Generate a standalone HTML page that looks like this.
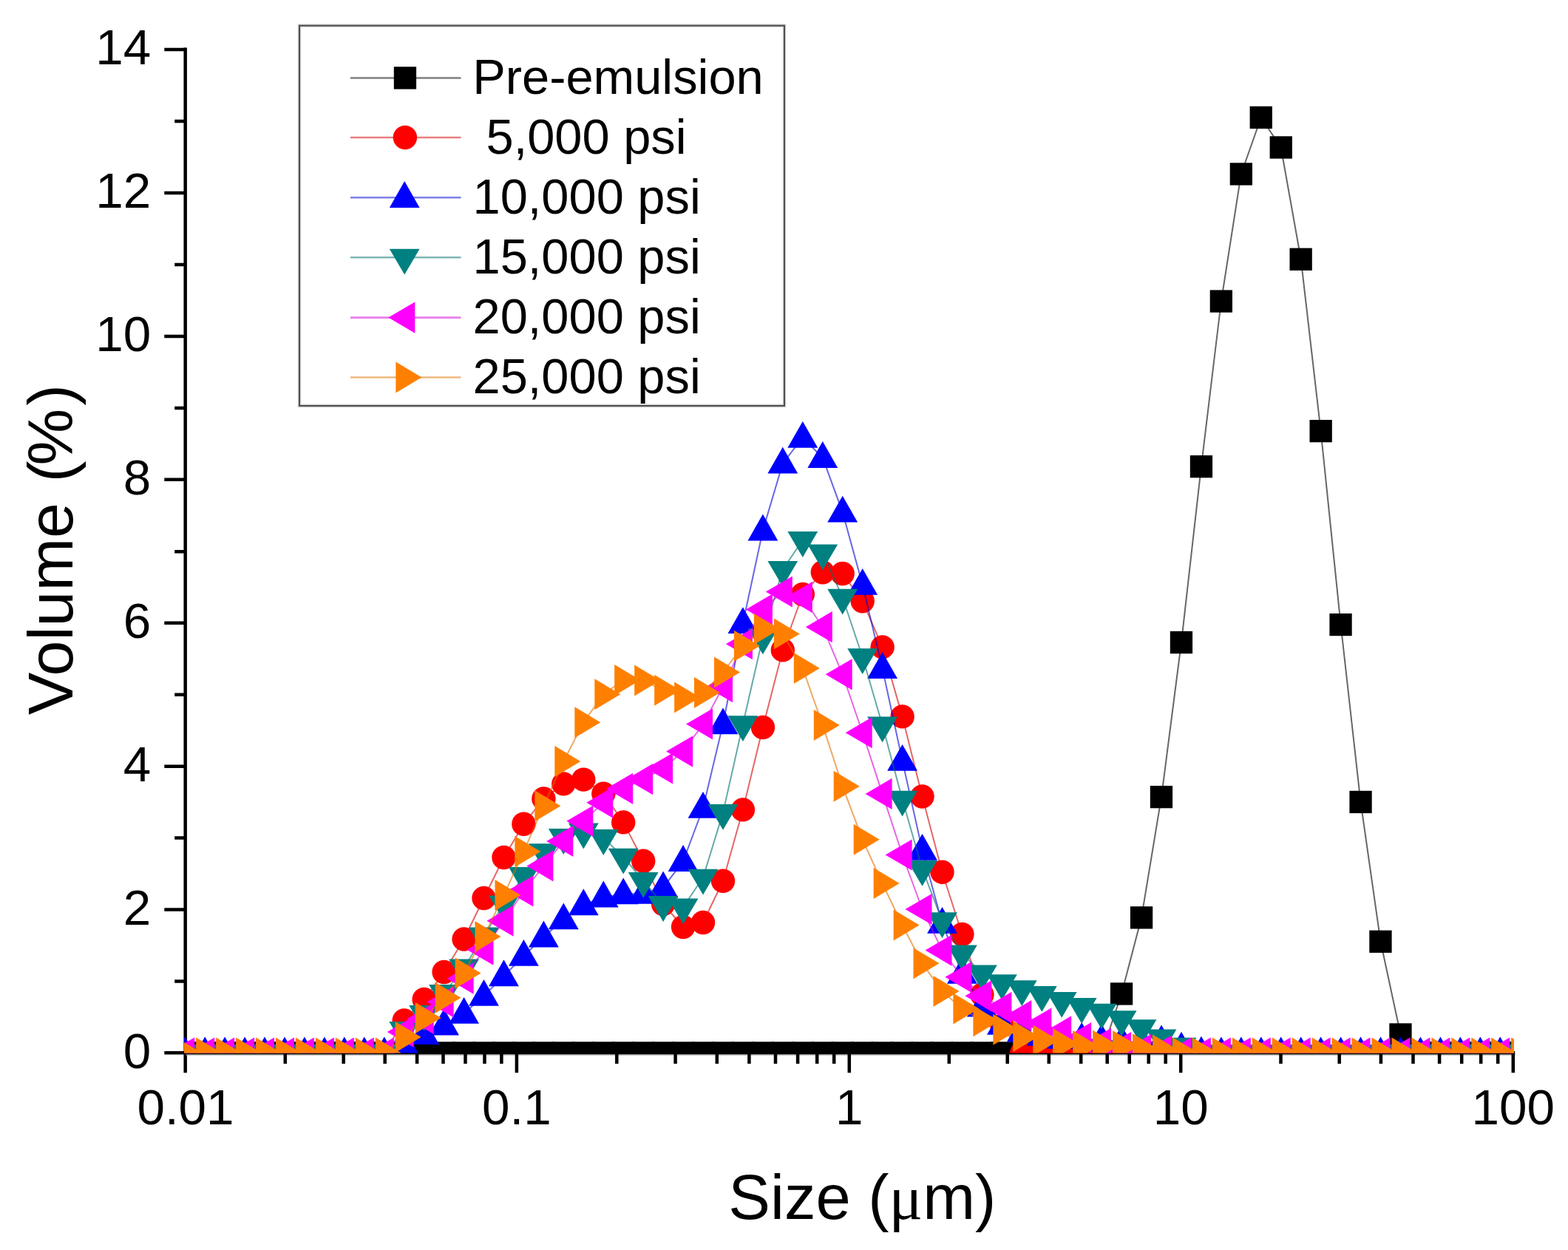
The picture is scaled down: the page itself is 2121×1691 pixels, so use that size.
<!DOCTYPE html>
<html lang="en"><head><meta charset="utf-8"><title>Volume (%)</title>
<style>html,body{margin:0;padding:0;background:#fff}body{width:2121px;height:1691px;overflow:hidden}svg{display:block}text{font-family:"Liberation Sans",Arial,Helvetica,sans-serif;fill:#000}.tk{font-size:67.4px}.lg{font-size:66.8px}.ti{font-size:85px}.tv{font-size:86px;word-spacing:4px}.mu{font-family:"Liberation Serif","DejaVu Serif",serif;}</style></head><body>
<svg width="2121" height="1691" viewBox="0 0 2121 1691">
<rect width="2121" height="1691" fill="#fff"/>
<defs><clipPath id="cp"><rect x="249" y="40" width="1799" height="1384.4"/></clipPath></defs>
<g stroke="#000" stroke-width="4.5" fill="none">
<path d="M250.7 64.6V1451.3"/>
<path d="M222.3 1424.2H2049.2" stroke-width="4.4"/>
<path d="M251 1426.9H2049.4" stroke="#888" stroke-width="1.4"/>
<path d="M236.2 1327.5H251M222.3 1230.6H251M236.2 1133.6H251M222.3 1036.7H251M236.2 939.7H251M222.3 842.7H251M236.2 746.3H251M222.3 648.8H251M236.2 551.9H251M222.3 454.9H251M236.2 357.9H251M222.3 261H251M236.2 164H251M222.3 67.1H251"/>
<path d="M385.8 1424.5V1438.9M464.7 1424.5V1438.9M520.7 1424.5V1438.9M564.1 1424.5V1438.9M599.5 1424.5V1438.9M629.5 1424.5V1438.9M655.5 1424.5V1438.9M678.4 1424.5V1438.9M698.9 1424.5V1451.3M834.3 1424.5V1438.9M913.6 1424.5V1438.9M969.8 1424.5V1438.9M1013.4 1424.5V1438.9M1049 1424.5V1438.9M1079.1 1424.5V1438.9M1105.2 1424.5V1438.9M1128.2 1424.5V1438.9M1148.8 1424.5V1451.3M1283.8 1424.5V1438.9M1362.7 1424.5V1438.9M1418.8 1424.5V1438.9M1462.2 1424.5V1438.9M1497.7 1424.5V1438.9M1527.7 1424.5V1438.9M1553.7 1424.5V1438.9M1576.7 1424.5V1438.9M1597.2 1424.5V1451.3M1732.5 1424.5V1438.9M1811.7 1424.5V1438.9M1867.9 1424.5V1438.9M1911.5 1424.5V1438.9M1947.1 1424.5V1438.9M1977.2 1424.5V1438.9M2003.2 1424.5V1438.9M2026.2 1424.5V1438.9M2046.8 1424.5V1451.3"/>
</g>
<g class="tk" text-anchor="end">
<text x="204.3" y="1444.5">0</text>
<text x="204.3" y="1250.6">2</text>
<text x="204.3" y="1056.7">4</text>
<text x="204.3" y="862.7">6</text>
<text x="204.3" y="668.8">8</text>
<text x="204.3" y="474.9">10</text>
<text x="204.3" y="281">12</text>
<text x="204.3" y="87.1">14</text>
</g>
<g class="tk" text-anchor="middle">
<text x="251" y="1521">0.01</text>
<text x="698.9" y="1521">0.1</text>
<text x="1148.8" y="1521">1</text>
<text x="1597.2" y="1521">10</text>
<text x="2046.8" y="1521">100</text>
</g>
<text class="ti" x="985.3" y="1649.2">Size (<tspan class="mu">μ</tspan>m)</text>
<text class="ti tv" transform="translate(97.5 967) rotate(-90)">Volume (<tspan dx="-6">%</tspan><tspan dx="4.5">)</tspan></text>
<g clip-path="url(#cp)">
<polyline points="250.2,1424.5 277.2,1424.5 304.1,1424.5 331.1,1424.5 358,1424.5 385,1424.5 411.9,1424.5 438.9,1424.5 465.8,1424.5 492.8,1424.5 519.8,1424.5 546.7,1424.5 573.7,1424.5 600.6,1424.5 627.6,1424.5 654.5,1424.5 681.5,1424.5 708.4,1424.5 735.4,1424.5 762.3,1424.5 789.3,1424.5 816.3,1424.5 843.2,1424.5 870.2,1424.5 897.1,1424.5 924.1,1424.5 951,1424.5 978,1424.5 1004.9,1424.5 1031.9,1424.5 1058.8,1424.5 1085.8,1424.5 1112.8,1424.5 1139.7,1424.5 1166.7,1424.5 1193.6,1424.5 1220.6,1424.5 1247.5,1424.5 1274.5,1424.5 1301.4,1424.5 1328.4,1424.5 1355.4,1424.5 1382.3,1424.5 1409.3,1424.5 1436.2,1424.5 1463.2,1424.5 1490.1,1424.5 1517.1,1344.5 1544,1241.4 1571,1078.2 1598,869 1624.9,631.1 1651.9,407.5 1678.8,235.5 1705.8,159 1732.7,199.5 1759.7,350.7 1786.6,583.1 1813.6,845 1840.5,1084.9 1867.5,1273.8 1894.5,1399.5 1921.4,1424.5 1948.4,1424.5 1975.3,1424.5 2002.3,1424.5 2029.2,1424.5 2056.2,1424.5" fill="none" stroke="#000" stroke-width="2.0" stroke-opacity="0.6" stroke-linejoin="round"/>
<g fill="#000000"><rect x="235" y="1409.3" width="30.3" height="30.3"/><rect x="262" y="1409.3" width="30.3" height="30.3"/><rect x="289" y="1409.3" width="30.3" height="30.3"/><rect x="315.9" y="1409.3" width="30.3" height="30.3"/><rect x="342.9" y="1409.3" width="30.3" height="30.3"/><rect x="369.8" y="1409.3" width="30.3" height="30.3"/><rect x="396.8" y="1409.3" width="30.3" height="30.3"/><rect x="423.7" y="1409.3" width="30.3" height="30.3"/><rect x="450.7" y="1409.3" width="30.3" height="30.3"/><rect x="477.6" y="1409.3" width="30.3" height="30.3"/><rect x="504.6" y="1409.3" width="30.3" height="30.3"/><rect x="531.6" y="1409.3" width="30.3" height="30.3"/><rect x="558.5" y="1409.3" width="30.3" height="30.3"/><rect x="585.5" y="1409.3" width="30.3" height="30.3"/><rect x="612.4" y="1409.3" width="30.3" height="30.3"/><rect x="639.4" y="1409.3" width="30.3" height="30.3"/><rect x="666.3" y="1409.3" width="30.3" height="30.3"/><rect x="693.3" y="1409.3" width="30.3" height="30.3"/><rect x="720.2" y="1409.3" width="30.3" height="30.3"/><rect x="747.2" y="1409.3" width="30.3" height="30.3"/><rect x="774.1" y="1409.3" width="30.3" height="30.3"/><rect x="801.1" y="1409.3" width="30.3" height="30.3"/><rect x="828.1" y="1409.3" width="30.3" height="30.3"/><rect x="855" y="1409.3" width="30.3" height="30.3"/><rect x="882" y="1409.3" width="30.3" height="30.3"/><rect x="908.9" y="1409.3" width="30.3" height="30.3"/><rect x="935.9" y="1409.3" width="30.3" height="30.3"/><rect x="962.8" y="1409.3" width="30.3" height="30.3"/><rect x="989.8" y="1409.3" width="30.3" height="30.3"/><rect x="1016.7" y="1409.3" width="30.3" height="30.3"/><rect x="1043.7" y="1409.3" width="30.3" height="30.3"/><rect x="1070.7" y="1409.3" width="30.3" height="30.3"/><rect x="1097.6" y="1409.3" width="30.3" height="30.3"/><rect x="1124.6" y="1409.3" width="30.3" height="30.3"/><rect x="1151.5" y="1409.3" width="30.3" height="30.3"/><rect x="1178.5" y="1409.3" width="30.3" height="30.3"/><rect x="1205.4" y="1409.3" width="30.3" height="30.3"/><rect x="1232.4" y="1409.3" width="30.3" height="30.3"/><rect x="1259.3" y="1409.3" width="30.3" height="30.3"/><rect x="1286.3" y="1409.3" width="30.3" height="30.3"/><rect x="1313.2" y="1409.3" width="30.3" height="30.3"/><rect x="1340.2" y="1409.3" width="30.3" height="30.3"/><rect x="1367.2" y="1409.3" width="30.3" height="30.3"/><rect x="1394.1" y="1409.3" width="30.3" height="30.3"/><rect x="1421.1" y="1409.3" width="30.3" height="30.3"/><rect x="1448" y="1409.3" width="30.3" height="30.3"/><rect x="1475" y="1409.3" width="30.3" height="30.3"/><rect x="1501.9" y="1329.3" width="30.3" height="30.3"/><rect x="1528.9" y="1226.2" width="30.3" height="30.3"/><rect x="1555.8" y="1063" width="30.3" height="30.3"/><rect x="1582.8" y="853.9" width="30.3" height="30.3"/><rect x="1609.8" y="616" width="30.3" height="30.3"/><rect x="1636.7" y="392.4" width="30.3" height="30.3"/><rect x="1663.7" y="220.3" width="30.3" height="30.3"/><rect x="1690.6" y="143.8" width="30.3" height="30.3"/><rect x="1717.6" y="184.3" width="30.3" height="30.3"/><rect x="1744.5" y="335.6" width="30.3" height="30.3"/><rect x="1771.5" y="568" width="30.3" height="30.3"/><rect x="1798.4" y="829.9" width="30.3" height="30.3"/><rect x="1825.4" y="1069.8" width="30.3" height="30.3"/><rect x="1852.3" y="1258.6" width="30.3" height="30.3"/><rect x="1879.3" y="1384.3" width="30.3" height="30.3"/><rect x="1906.3" y="1409.3" width="30.3" height="30.3"/><rect x="1933.2" y="1409.3" width="30.3" height="30.3"/><rect x="1960.2" y="1409.3" width="30.3" height="30.3"/><rect x="1987.1" y="1409.3" width="30.3" height="30.3"/><rect x="2014.1" y="1409.3" width="30.3" height="30.3"/><rect x="2041" y="1409.3" width="30.3" height="30.3"/></g>
<polyline points="250.2,1424.5 277.2,1424.5 304.1,1424.5 331.1,1424.5 358,1424.5 385,1424.5 411.9,1424.5 438.9,1424.5 465.8,1424.5 492.8,1424.5 519.8,1424.5 546.7,1380.5 573.7,1352 600.6,1315 627.6,1270.5 654.5,1215 681.5,1160 708.4,1114.8 735.4,1080.5 762.3,1060.4 789.3,1054.6 816.3,1073.6 843.2,1112.4 870.2,1164.8 897.1,1223 924.1,1254 951,1248 978,1191.7 1004.9,1095.4 1031.9,984 1058.8,879.4 1085.8,804 1112.8,774.2 1139.7,776 1166.7,813.2 1193.6,875.4 1220.6,969.4 1247.5,1077.5 1274.5,1179.8 1301.4,1264 1328.4,1345.5 1355.4,1387.5 1382.3,1424.5 1409.3,1424.5 1436.2,1424.5 1463.2,1424.5 1490.1,1424.5 1517.1,1424.5 1544,1424.5 1571,1424.5 1598,1424.5 1624.9,1424.5 1651.9,1424.5 1678.8,1424.5 1705.8,1424.5 1732.7,1424.5 1759.7,1424.5 1786.6,1424.5 1813.6,1424.5 1840.5,1424.5 1867.5,1424.5 1894.5,1424.5 1921.4,1424.5 1948.4,1424.5 1975.3,1424.5 2002.3,1424.5 2029.2,1424.5 2056.2,1424.5" fill="none" stroke="#d40000" stroke-width="2.0" stroke-opacity="0.6" stroke-linejoin="round"/>
<g fill="#ff0000"><circle cx="250.2" cy="1424.5" r="16.2"/><circle cx="277.2" cy="1424.5" r="16.2"/><circle cx="304.1" cy="1424.5" r="16.2"/><circle cx="331.1" cy="1424.5" r="16.2"/><circle cx="358" cy="1424.5" r="16.2"/><circle cx="385" cy="1424.5" r="16.2"/><circle cx="411.9" cy="1424.5" r="16.2"/><circle cx="438.9" cy="1424.5" r="16.2"/><circle cx="465.8" cy="1424.5" r="16.2"/><circle cx="492.8" cy="1424.5" r="16.2"/><circle cx="519.8" cy="1424.5" r="16.2"/><circle cx="546.7" cy="1380.5" r="16.2"/><circle cx="573.7" cy="1352" r="16.2"/><circle cx="600.6" cy="1315" r="16.2"/><circle cx="627.6" cy="1270.5" r="16.2"/><circle cx="654.5" cy="1215" r="16.2"/><circle cx="681.5" cy="1160" r="16.2"/><circle cx="708.4" cy="1114.8" r="16.2"/><circle cx="735.4" cy="1080.5" r="16.2"/><circle cx="762.3" cy="1060.4" r="16.2"/><circle cx="789.3" cy="1054.6" r="16.2"/><circle cx="816.3" cy="1073.6" r="16.2"/><circle cx="843.2" cy="1112.4" r="16.2"/><circle cx="870.2" cy="1164.8" r="16.2"/><circle cx="897.1" cy="1223" r="16.2"/><circle cx="924.1" cy="1254" r="16.2"/><circle cx="951" cy="1248" r="16.2"/><circle cx="978" cy="1191.7" r="16.2"/><circle cx="1004.9" cy="1095.4" r="16.2"/><circle cx="1031.9" cy="984" r="16.2"/><circle cx="1058.8" cy="879.4" r="16.2"/><circle cx="1085.8" cy="804" r="16.2"/><circle cx="1112.8" cy="774.2" r="16.2"/><circle cx="1139.7" cy="776" r="16.2"/><circle cx="1166.7" cy="813.2" r="16.2"/><circle cx="1193.6" cy="875.4" r="16.2"/><circle cx="1220.6" cy="969.4" r="16.2"/><circle cx="1247.5" cy="1077.5" r="16.2"/><circle cx="1274.5" cy="1179.8" r="16.2"/><circle cx="1301.4" cy="1264" r="16.2"/><circle cx="1328.4" cy="1345.5" r="16.2"/><circle cx="1355.4" cy="1387.5" r="16.2"/><circle cx="1382.3" cy="1424.5" r="16.2"/><circle cx="1409.3" cy="1424.5" r="16.2"/><circle cx="1436.2" cy="1424.5" r="16.2"/><circle cx="1463.2" cy="1424.5" r="16.2"/><circle cx="1490.1" cy="1424.5" r="16.2"/><circle cx="1517.1" cy="1424.5" r="16.2"/><circle cx="1544" cy="1424.5" r="16.2"/><circle cx="1571" cy="1424.5" r="16.2"/><circle cx="1598" cy="1424.5" r="16.2"/><circle cx="1624.9" cy="1424.5" r="16.2"/><circle cx="1651.9" cy="1424.5" r="16.2"/><circle cx="1678.8" cy="1424.5" r="16.2"/><circle cx="1705.8" cy="1424.5" r="16.2"/><circle cx="1732.7" cy="1424.5" r="16.2"/><circle cx="1759.7" cy="1424.5" r="16.2"/><circle cx="1786.6" cy="1424.5" r="16.2"/><circle cx="1813.6" cy="1424.5" r="16.2"/><circle cx="1840.5" cy="1424.5" r="16.2"/><circle cx="1867.5" cy="1424.5" r="16.2"/><circle cx="1894.5" cy="1424.5" r="16.2"/><circle cx="1921.4" cy="1424.5" r="16.2"/><circle cx="1948.4" cy="1424.5" r="16.2"/><circle cx="1975.3" cy="1424.5" r="16.2"/><circle cx="2002.3" cy="1424.5" r="16.2"/><circle cx="2029.2" cy="1424.5" r="16.2"/><circle cx="2056.2" cy="1424.5" r="16.2"/></g>
<polyline points="250.2,1424.5 277.2,1424.5 304.1,1424.5 331.1,1424.5 358,1424.5 385,1424.5 411.9,1424.5 438.9,1424.5 465.8,1424.5 492.8,1424.5 519.8,1424.5 546.7,1413.4 573.7,1399.2 600.6,1386.6 627.6,1371 654.5,1347 681.5,1320.4 708.4,1293 735.4,1267.7 762.3,1243.5 789.3,1224.4 816.3,1213.7 843.2,1209.5 870.2,1209 897.1,1200.7 924.1,1165.1 951,1093 978,979.5 1004.9,843.3 1031.9,717.6 1058.8,626.8 1085.8,592 1112.8,619.2 1139.7,692.8 1166.7,791 1193.6,904.2 1220.6,1029 1247.5,1150 1274.5,1249 1301.4,1317 1328.4,1361.6 1355.4,1386 1382.3,1395.7 1409.3,1401 1436.2,1405 1463.2,1405 1490.1,1407 1517.1,1409 1544,1410 1571,1408.7 1598,1417.9 1624.9,1423.9 1651.9,1424.5 1678.8,1424.5 1705.8,1424.5 1732.7,1424.5 1759.7,1424.5 1786.6,1424.5 1813.6,1424.5 1840.5,1424.5 1867.5,1424.5 1894.5,1424.5 1921.4,1424.5 1948.4,1424.5 1975.3,1424.5 2002.3,1424.5 2029.2,1424.5 2056.2,1424.5" fill="none" stroke="#0000d4" stroke-width="2.0" stroke-opacity="0.6" stroke-linejoin="round"/>
<g fill="#0000ff"><path d="M250.2 1402.4L270.6 1438.3L229.8 1438.3Z"/><path d="M277.2 1402.4L297.6 1438.3L256.8 1438.3Z"/><path d="M304.1 1402.4L324.5 1438.3L283.7 1438.3Z"/><path d="M331.1 1402.4L351.5 1438.3L310.7 1438.3Z"/><path d="M358 1402.4L378.4 1438.3L337.6 1438.3Z"/><path d="M385 1402.4L405.4 1438.3L364.6 1438.3Z"/><path d="M411.9 1402.4L432.3 1438.3L391.5 1438.3Z"/><path d="M438.9 1402.4L459.3 1438.3L418.5 1438.3Z"/><path d="M465.8 1402.4L486.2 1438.3L445.4 1438.3Z"/><path d="M492.8 1402.4L513.2 1438.3L472.4 1438.3Z"/><path d="M519.8 1402.4L540.1 1438.3L499.4 1438.3Z"/><path d="M546.7 1391.3L567.1 1427.2L526.3 1427.2Z"/><path d="M573.7 1377.1L594.1 1413L553.3 1413Z"/><path d="M600.6 1364.5L621 1400.4L580.2 1400.4Z"/><path d="M627.6 1348.9L648 1384.8L607.2 1384.8Z"/><path d="M654.5 1324.9L674.9 1360.8L634.1 1360.8Z"/><path d="M681.5 1298.3L701.9 1334.2L661.1 1334.2Z"/><path d="M708.4 1270.9L728.8 1306.8L688 1306.8Z"/><path d="M735.4 1245.6L755.8 1281.5L715 1281.5Z"/><path d="M762.3 1221.4L782.7 1257.3L741.9 1257.3Z"/><path d="M789.3 1202.3L809.7 1238.2L768.9 1238.2Z"/><path d="M816.3 1191.6L836.7 1227.5L795.9 1227.5Z"/><path d="M843.2 1187.4L863.6 1223.3L822.8 1223.3Z"/><path d="M870.2 1186.9L890.6 1222.8L849.8 1222.8Z"/><path d="M897.1 1178.6L917.5 1214.5L876.7 1214.5Z"/><path d="M924.1 1143L944.5 1178.9L903.7 1178.9Z"/><path d="M951 1070.9L971.4 1106.8L930.6 1106.8Z"/><path d="M978 957.4L998.4 993.3L957.6 993.3Z"/><path d="M1004.9 821.2L1025.3 857.1L984.5 857.1Z"/><path d="M1031.9 695.5L1052.3 731.4L1011.5 731.4Z"/><path d="M1058.8 604.7L1079.2 640.6L1038.4 640.6Z"/><path d="M1085.8 569.9L1106.2 605.8L1065.4 605.8Z"/><path d="M1112.8 597.1L1133.2 633L1092.4 633Z"/><path d="M1139.7 670.7L1160.1 706.6L1119.3 706.6Z"/><path d="M1166.7 768.9L1187.1 804.8L1146.3 804.8Z"/><path d="M1193.6 882.1L1214 918L1173.2 918Z"/><path d="M1220.6 1006.9L1241 1042.8L1200.2 1042.8Z"/><path d="M1247.5 1127.9L1267.9 1163.8L1227.1 1163.8Z"/><path d="M1274.5 1226.9L1294.9 1262.8L1254.1 1262.8Z"/><path d="M1301.4 1294.9L1321.8 1330.8L1281 1330.8Z"/><path d="M1328.4 1339.5L1348.8 1375.4L1308 1375.4Z"/><path d="M1355.4 1363.9L1375.8 1399.8L1335 1399.8Z"/><path d="M1382.3 1373.6L1402.7 1409.5L1361.9 1409.5Z"/><path d="M1409.3 1378.9L1429.7 1414.8L1388.9 1414.8Z"/><path d="M1436.2 1382.9L1456.6 1418.8L1415.8 1418.8Z"/><path d="M1463.2 1382.9L1483.6 1418.8L1442.8 1418.8Z"/><path d="M1490.1 1384.9L1510.5 1420.8L1469.7 1420.8Z"/><path d="M1517.1 1386.9L1537.5 1422.8L1496.7 1422.8Z"/><path d="M1544 1387.9L1564.4 1423.8L1523.6 1423.8Z"/><path d="M1571 1386.6L1591.4 1422.5L1550.6 1422.5Z"/><path d="M1598 1395.8L1618.4 1431.7L1577.5 1431.7Z"/><path d="M1624.9 1401.8L1645.3 1437.7L1604.5 1437.7Z"/><path d="M1651.9 1402.4L1672.3 1438.3L1631.5 1438.3Z"/><path d="M1678.8 1402.4L1699.2 1438.3L1658.4 1438.3Z"/><path d="M1705.8 1402.4L1726.2 1438.3L1685.4 1438.3Z"/><path d="M1732.7 1402.4L1753.1 1438.3L1712.3 1438.3Z"/><path d="M1759.7 1402.4L1780.1 1438.3L1739.3 1438.3Z"/><path d="M1786.6 1402.4L1807 1438.3L1766.2 1438.3Z"/><path d="M1813.6 1402.4L1834 1438.3L1793.2 1438.3Z"/><path d="M1840.5 1402.4L1860.9 1438.3L1820.1 1438.3Z"/><path d="M1867.5 1402.4L1887.9 1438.3L1847.1 1438.3Z"/><path d="M1894.5 1402.4L1914.9 1438.3L1874.1 1438.3Z"/><path d="M1921.4 1402.4L1941.8 1438.3L1901 1438.3Z"/><path d="M1948.4 1402.4L1968.8 1438.3L1928 1438.3Z"/><path d="M1975.3 1402.4L1995.7 1438.3L1954.9 1438.3Z"/><path d="M2002.3 1402.4L2022.7 1438.3L1981.9 1438.3Z"/><path d="M2029.2 1402.4L2049.6 1438.3L2008.8 1438.3Z"/><path d="M2056.2 1402.4L2076.6 1438.3L2035.8 1438.3Z"/></g>
<polyline points="250.2,1424.5 277.2,1424.5 304.1,1424.5 331.1,1424.5 358,1424.5 385,1424.5 411.9,1424.5 438.9,1424.5 465.8,1424.5 492.8,1424.5 519.8,1424.5 546.7,1393.6 573.7,1371.5 600.6,1343.5 627.6,1309 654.5,1266 681.5,1223 708.4,1184.6 735.4,1152.7 762.3,1132.6 789.3,1125.1 816.3,1133.6 843.2,1159.2 870.2,1191.5 897.1,1223.6 924.1,1227 951,1187.2 978,1099.4 1004.9,979.7 1031.9,862 1058.8,770.4 1085.8,730.6 1112.8,747.9 1139.7,808.2 1166.7,888.8 1193.6,981 1220.6,1081.3 1247.5,1175.4 1274.5,1245.8 1301.4,1290 1328.4,1316.9 1355.4,1329.7 1382.3,1337.8 1409.3,1345.5 1436.2,1353.5 1463.2,1361.4 1490.1,1369.2 1517.1,1378.7 1544,1390.8 1571,1404.1 1598,1415.2 1624.9,1424.5 1651.9,1424.5 1678.8,1424.5 1705.8,1424.5 1732.7,1424.5 1759.7,1424.5 1786.6,1424.5 1813.6,1424.5 1840.5,1424.5 1867.5,1424.5 1894.5,1424.5 1921.4,1424.5 1948.4,1424.5 1975.3,1424.5 2002.3,1424.5 2029.2,1424.5 2056.2,1424.5" fill="none" stroke="#007070" stroke-width="2.0" stroke-opacity="0.6" stroke-linejoin="round"/>
<g fill="#008080"><path d="M250.2 1447.8L270.6 1413L229.8 1413Z"/><path d="M277.2 1447.8L297.6 1413L256.8 1413Z"/><path d="M304.1 1447.8L324.5 1413L283.7 1413Z"/><path d="M331.1 1447.8L351.5 1413L310.7 1413Z"/><path d="M358 1447.8L378.4 1413L337.6 1413Z"/><path d="M385 1447.8L405.4 1413L364.6 1413Z"/><path d="M411.9 1447.8L432.3 1413L391.5 1413Z"/><path d="M438.9 1447.8L459.3 1413L418.5 1413Z"/><path d="M465.8 1447.8L486.2 1413L445.4 1413Z"/><path d="M492.8 1447.8L513.2 1413L472.4 1413Z"/><path d="M519.8 1447.8L540.1 1413L499.4 1413Z"/><path d="M546.7 1416.9L567.1 1382.1L526.3 1382.1Z"/><path d="M573.7 1394.8L594.1 1360L553.3 1360Z"/><path d="M600.6 1366.8L621 1332L580.2 1332Z"/><path d="M627.6 1332.3L648 1297.5L607.2 1297.5Z"/><path d="M654.5 1289.3L674.9 1254.5L634.1 1254.5Z"/><path d="M681.5 1246.3L701.9 1211.5L661.1 1211.5Z"/><path d="M708.4 1207.9L728.8 1173.1L688 1173.1Z"/><path d="M735.4 1176L755.8 1141.2L715 1141.2Z"/><path d="M762.3 1155.9L782.7 1121.1L741.9 1121.1Z"/><path d="M789.3 1148.4L809.7 1113.6L768.9 1113.6Z"/><path d="M816.3 1156.9L836.7 1122.1L795.9 1122.1Z"/><path d="M843.2 1182.5L863.6 1147.7L822.8 1147.7Z"/><path d="M870.2 1214.8L890.6 1180L849.8 1180Z"/><path d="M897.1 1246.9L917.5 1212.1L876.7 1212.1Z"/><path d="M924.1 1250.3L944.5 1215.5L903.7 1215.5Z"/><path d="M951 1210.5L971.4 1175.7L930.6 1175.7Z"/><path d="M978 1122.7L998.4 1087.9L957.6 1087.9Z"/><path d="M1004.9 1003L1025.3 968.2L984.5 968.2Z"/><path d="M1031.9 885.3L1052.3 850.5L1011.5 850.5Z"/><path d="M1058.8 793.7L1079.2 758.9L1038.4 758.9Z"/><path d="M1085.8 753.9L1106.2 719.1L1065.4 719.1Z"/><path d="M1112.8 771.2L1133.2 736.4L1092.4 736.4Z"/><path d="M1139.7 831.5L1160.1 796.7L1119.3 796.7Z"/><path d="M1166.7 912.1L1187.1 877.3L1146.3 877.3Z"/><path d="M1193.6 1004.3L1214 969.5L1173.2 969.5Z"/><path d="M1220.6 1104.6L1241 1069.8L1200.2 1069.8Z"/><path d="M1247.5 1198.7L1267.9 1163.9L1227.1 1163.9Z"/><path d="M1274.5 1269.1L1294.9 1234.3L1254.1 1234.3Z"/><path d="M1301.4 1313.3L1321.8 1278.5L1281 1278.5Z"/><path d="M1328.4 1340.2L1348.8 1305.4L1308 1305.4Z"/><path d="M1355.4 1353L1375.8 1318.2L1335 1318.2Z"/><path d="M1382.3 1361.1L1402.7 1326.3L1361.9 1326.3Z"/><path d="M1409.3 1368.8L1429.7 1334L1388.9 1334Z"/><path d="M1436.2 1376.8L1456.6 1342L1415.8 1342Z"/><path d="M1463.2 1384.7L1483.6 1349.9L1442.8 1349.9Z"/><path d="M1490.1 1392.5L1510.5 1357.7L1469.7 1357.7Z"/><path d="M1517.1 1402L1537.5 1367.2L1496.7 1367.2Z"/><path d="M1544 1414.1L1564.4 1379.3L1523.6 1379.3Z"/><path d="M1571 1427.4L1591.4 1392.6L1550.6 1392.6Z"/><path d="M1598 1438.5L1618.4 1403.7L1577.5 1403.7Z"/><path d="M1624.9 1447.8L1645.3 1413L1604.5 1413Z"/><path d="M1651.9 1447.8L1672.3 1413L1631.5 1413Z"/><path d="M1678.8 1447.8L1699.2 1413L1658.4 1413Z"/><path d="M1705.8 1447.8L1726.2 1413L1685.4 1413Z"/><path d="M1732.7 1447.8L1753.1 1413L1712.3 1413Z"/><path d="M1759.7 1447.8L1780.1 1413L1739.3 1413Z"/><path d="M1786.6 1447.8L1807 1413L1766.2 1413Z"/><path d="M1813.6 1447.8L1834 1413L1793.2 1413Z"/><path d="M1840.5 1447.8L1860.9 1413L1820.1 1413Z"/><path d="M1867.5 1447.8L1887.9 1413L1847.1 1413Z"/><path d="M1894.5 1447.8L1914.9 1413L1874.1 1413Z"/><path d="M1921.4 1447.8L1941.8 1413L1901 1413Z"/><path d="M1948.4 1447.8L1968.8 1413L1928 1413Z"/><path d="M1975.3 1447.8L1995.7 1413L1954.9 1413Z"/><path d="M2002.3 1447.8L2022.7 1413L1981.9 1413Z"/><path d="M2029.2 1447.8L2049.6 1413L2008.8 1413Z"/><path d="M2056.2 1447.8L2076.6 1413L2035.8 1413Z"/></g>
<polyline points="250.2,1424.5 277.2,1424.5 304.1,1424.5 331.1,1424.5 358,1424.5 385,1424.5 411.9,1424.5 438.9,1424.5 465.8,1424.5 492.8,1424.5 519.8,1424.5 546.7,1396 573.7,1378 600.6,1355.3 627.6,1323.7 654.5,1284.7 681.5,1245.7 708.4,1205.5 735.4,1171.5 762.3,1138 789.3,1110.8 816.3,1085.7 843.2,1066.8 870.2,1054.2 897.1,1039.5 924.1,1016.6 951,979.5 978,929.1 1004.9,871.2 1031.9,824.5 1058.8,800.5 1085.8,808 1112.8,848.2 1139.7,912.3 1166.7,991.2 1193.6,1073.9 1220.6,1156.5 1247.5,1230 1274.5,1285.6 1301.4,1321.8 1328.4,1347.3 1355.4,1362.9 1382.3,1374.2 1409.3,1384.6 1436.2,1395.4 1463.2,1404 1490.1,1411.8 1517.1,1417 1544,1420 1571,1422 1598,1424.5 1624.9,1424.5 1651.9,1424.5 1678.8,1424.5 1705.8,1424.5 1732.7,1424.5 1759.7,1424.5 1786.6,1424.5 1813.6,1424.5 1840.5,1424.5 1867.5,1424.5 1894.5,1424.5 1921.4,1424.5 1948.4,1424.5 1975.3,1424.5 2002.3,1424.5 2029.2,1424.5 2056.2,1424.5" fill="none" stroke="#d400d4" stroke-width="2.0" stroke-opacity="0.6" stroke-linejoin="round"/>
<g fill="#ff00ff"><path d="M227.2 1424.5L263.2 1403.4L263.2 1445.6Z"/><path d="M254.2 1424.5L290.2 1403.4L290.2 1445.6Z"/><path d="M281.1 1424.5L317.1 1403.4L317.1 1445.6Z"/><path d="M308.1 1424.5L344.1 1403.4L344.1 1445.6Z"/><path d="M335 1424.5L371 1403.4L371 1445.6Z"/><path d="M362 1424.5L398 1403.4L398 1445.6Z"/><path d="M388.9 1424.5L424.9 1403.4L424.9 1445.6Z"/><path d="M415.9 1424.5L451.9 1403.4L451.9 1445.6Z"/><path d="M442.8 1424.5L478.8 1403.4L478.8 1445.6Z"/><path d="M469.8 1424.5L505.8 1403.4L505.8 1445.6Z"/><path d="M496.8 1424.5L532.8 1403.4L532.8 1445.6Z"/><path d="M523.7 1396L559.7 1374.9L559.7 1417.1Z"/><path d="M550.7 1378L586.7 1356.9L586.7 1399.1Z"/><path d="M577.6 1355.3L613.6 1334.2L613.6 1376.4Z"/><path d="M604.6 1323.7L640.6 1302.6L640.6 1344.8Z"/><path d="M631.5 1284.7L667.5 1263.6L667.5 1305.8Z"/><path d="M658.5 1245.7L694.5 1224.6L694.5 1266.8Z"/><path d="M685.4 1205.5L721.4 1184.4L721.4 1226.6Z"/><path d="M712.4 1171.5L748.4 1150.4L748.4 1192.6Z"/><path d="M739.3 1138L775.3 1116.9L775.3 1159.1Z"/><path d="M766.3 1110.8L802.3 1089.7L802.3 1131.9Z"/><path d="M793.3 1085.7L829.3 1064.6L829.3 1106.8Z"/><path d="M820.2 1066.8L856.2 1045.7L856.2 1087.9Z"/><path d="M847.2 1054.2L883.2 1033.1L883.2 1075.3Z"/><path d="M874.1 1039.5L910.1 1018.4L910.1 1060.6Z"/><path d="M901.1 1016.6L937.1 995.5L937.1 1037.7Z"/><path d="M928 979.5L964 958.4L964 1000.6Z"/><path d="M955 929.1L991 908L991 950.2Z"/><path d="M981.9 871.2L1017.9 850.1L1017.9 892.3Z"/><path d="M1008.9 824.5L1044.9 803.4L1044.9 845.6Z"/><path d="M1035.8 800.5L1071.8 779.4L1071.8 821.6Z"/><path d="M1062.8 808L1098.8 786.9L1098.8 829.1Z"/><path d="M1089.8 848.2L1125.8 827.1L1125.8 869.3Z"/><path d="M1116.7 912.3L1152.7 891.2L1152.7 933.4Z"/><path d="M1143.7 991.2L1179.7 970.1L1179.7 1012.3Z"/><path d="M1170.6 1073.9L1206.6 1052.8L1206.6 1095Z"/><path d="M1197.6 1156.5L1233.6 1135.4L1233.6 1177.6Z"/><path d="M1224.5 1230L1260.5 1208.9L1260.5 1251.1Z"/><path d="M1251.5 1285.6L1287.5 1264.5L1287.5 1306.7Z"/><path d="M1278.4 1321.8L1314.4 1300.7L1314.4 1342.9Z"/><path d="M1305.4 1347.3L1341.4 1326.2L1341.4 1368.4Z"/><path d="M1332.4 1362.9L1368.4 1341.8L1368.4 1384Z"/><path d="M1359.3 1374.2L1395.3 1353.1L1395.3 1395.3Z"/><path d="M1386.3 1384.6L1422.3 1363.5L1422.3 1405.7Z"/><path d="M1413.2 1395.4L1449.2 1374.3L1449.2 1416.5Z"/><path d="M1440.2 1404L1476.2 1382.9L1476.2 1425.1Z"/><path d="M1467.1 1411.8L1503.1 1390.7L1503.1 1432.9Z"/><path d="M1494.1 1417L1530.1 1395.9L1530.1 1438.1Z"/><path d="M1521 1420L1557 1398.9L1557 1441.1Z"/><path d="M1548 1422L1584 1400.9L1584 1443.1Z"/><path d="M1575 1424.5L1611 1403.4L1611 1445.6Z"/><path d="M1601.9 1424.5L1637.9 1403.4L1637.9 1445.6Z"/><path d="M1628.9 1424.5L1664.9 1403.4L1664.9 1445.6Z"/><path d="M1655.8 1424.5L1691.8 1403.4L1691.8 1445.6Z"/><path d="M1682.8 1424.5L1718.8 1403.4L1718.8 1445.6Z"/><path d="M1709.7 1424.5L1745.7 1403.4L1745.7 1445.6Z"/><path d="M1736.7 1424.5L1772.7 1403.4L1772.7 1445.6Z"/><path d="M1763.6 1424.5L1799.6 1403.4L1799.6 1445.6Z"/><path d="M1790.6 1424.5L1826.6 1403.4L1826.6 1445.6Z"/><path d="M1817.5 1424.5L1853.5 1403.4L1853.5 1445.6Z"/><path d="M1844.5 1424.5L1880.5 1403.4L1880.5 1445.6Z"/><path d="M1871.5 1424.5L1907.5 1403.4L1907.5 1445.6Z"/><path d="M1898.4 1424.5L1934.4 1403.4L1934.4 1445.6Z"/><path d="M1925.4 1424.5L1961.4 1403.4L1961.4 1445.6Z"/><path d="M1952.3 1424.5L1988.3 1403.4L1988.3 1445.6Z"/><path d="M1979.3 1424.5L2015.3 1403.4L2015.3 1445.6Z"/><path d="M2006.2 1424.5L2042.2 1403.4L2042.2 1445.6Z"/><path d="M2033.2 1424.5L2069.2 1403.4L2069.2 1445.6Z"/></g>
<polyline points="250.2,1424.5 277.2,1424.5 304.1,1424.5 331.1,1424.5 358,1424.5 385,1424.5 411.9,1424.5 438.9,1424.5 465.8,1424.5 492.8,1424.5 519.8,1424.5 546.7,1403 573.7,1377 600.6,1349.7 627.6,1316.6 654.5,1267 681.5,1210.9 708.4,1152 735.4,1090.2 762.3,1030.1 789.3,977.2 816.3,939.3 843.2,920.1 870.2,920.4 897.1,933.8 924.1,943.5 951,937 978,909.5 1004.9,873.8 1031.9,851 1058.8,857.6 1085.8,904 1112.8,981 1139.7,1063.8 1166.7,1135.7 1193.6,1195 1220.6,1251.5 1247.5,1303.3 1274.5,1341 1301.4,1364.4 1328.4,1381.3 1355.4,1392.8 1382.3,1402 1409.3,1407.4 1436.2,1412 1463.2,1415 1490.1,1414.5 1517.1,1415 1544,1419.3 1571,1420.5 1598,1424.2 1624.9,1424.5 1651.9,1424.5 1678.8,1424.5 1705.8,1424.5 1732.7,1424.5 1759.7,1424.5 1786.6,1424.5 1813.6,1424.5 1840.5,1424.5 1867.5,1424.5 1894.5,1424.5 1921.4,1424.5 1948.4,1424.5 1975.3,1424.5 2002.3,1424.5 2029.2,1424.5 2056.2,1424.5" fill="none" stroke="#e07000" stroke-width="2.0" stroke-opacity="0.6" stroke-linejoin="round"/>
<g fill="#ff8000"><path d="M273.2 1424.5L238.2 1403.5L238.2 1445.5Z"/><path d="M300.2 1424.5L265.2 1403.5L265.2 1445.5Z"/><path d="M327.1 1424.5L292.1 1403.5L292.1 1445.5Z"/><path d="M354.1 1424.5L319.1 1403.5L319.1 1445.5Z"/><path d="M381 1424.5L346 1403.5L346 1445.5Z"/><path d="M408 1424.5L373 1403.5L373 1445.5Z"/><path d="M434.9 1424.5L399.9 1403.5L399.9 1445.5Z"/><path d="M461.9 1424.5L426.9 1403.5L426.9 1445.5Z"/><path d="M488.8 1424.5L453.8 1403.5L453.8 1445.5Z"/><path d="M515.8 1424.5L480.8 1403.5L480.8 1445.5Z"/><path d="M542.8 1424.5L507.8 1403.5L507.8 1445.5Z"/><path d="M569.7 1403L534.7 1382L534.7 1424Z"/><path d="M596.7 1377L561.7 1356L561.7 1398Z"/><path d="M623.6 1349.7L588.6 1328.7L588.6 1370.7Z"/><path d="M650.6 1316.6L615.6 1295.6L615.6 1337.6Z"/><path d="M677.5 1267L642.5 1246L642.5 1288Z"/><path d="M704.5 1210.9L669.5 1189.9L669.5 1231.9Z"/><path d="M731.4 1152L696.4 1131L696.4 1173Z"/><path d="M758.4 1090.2L723.4 1069.2L723.4 1111.2Z"/><path d="M785.3 1030.1L750.3 1009.1L750.3 1051.1Z"/><path d="M812.3 977.2L777.3 956.2L777.3 998.2Z"/><path d="M839.3 939.3L804.3 918.3L804.3 960.3Z"/><path d="M866.2 920.1L831.2 899.1L831.2 941.1Z"/><path d="M893.2 920.4L858.2 899.4L858.2 941.4Z"/><path d="M920.1 933.8L885.1 912.8L885.1 954.8Z"/><path d="M947.1 943.5L912.1 922.5L912.1 964.5Z"/><path d="M974 937L939 916L939 958Z"/><path d="M1001 909.5L966 888.5L966 930.5Z"/><path d="M1027.9 873.8L992.9 852.8L992.9 894.8Z"/><path d="M1054.9 851L1019.9 830L1019.9 872Z"/><path d="M1081.8 857.6L1046.8 836.6L1046.8 878.6Z"/><path d="M1108.8 904L1073.8 883L1073.8 925Z"/><path d="M1135.8 981L1100.8 960L1100.8 1002Z"/><path d="M1162.7 1063.8L1127.7 1042.8L1127.7 1084.8Z"/><path d="M1189.7 1135.7L1154.7 1114.7L1154.7 1156.7Z"/><path d="M1216.6 1195L1181.6 1174L1181.6 1216Z"/><path d="M1243.6 1251.5L1208.6 1230.5L1208.6 1272.5Z"/><path d="M1270.5 1303.3L1235.5 1282.3L1235.5 1324.3Z"/><path d="M1297.5 1341L1262.5 1320L1262.5 1362Z"/><path d="M1324.4 1364.4L1289.4 1343.4L1289.4 1385.4Z"/><path d="M1351.4 1381.3L1316.4 1360.3L1316.4 1402.3Z"/><path d="M1378.4 1392.8L1343.4 1371.8L1343.4 1413.8Z"/><path d="M1405.3 1402L1370.3 1381L1370.3 1423Z"/><path d="M1432.3 1407.4L1397.3 1386.4L1397.3 1428.4Z"/><path d="M1459.2 1412L1424.2 1391L1424.2 1433Z"/><path d="M1486.2 1415L1451.2 1394L1451.2 1436Z"/><path d="M1513.1 1414.5L1478.1 1393.5L1478.1 1435.5Z"/><path d="M1540.1 1415L1505.1 1394L1505.1 1436Z"/><path d="M1567 1419.3L1532 1398.3L1532 1440.3Z"/><path d="M1594 1420.5L1559 1399.5L1559 1441.5Z"/><path d="M1621 1424.2L1586 1403.2L1586 1445.2Z"/><path d="M1647.9 1424.5L1612.9 1403.5L1612.9 1445.5Z"/><path d="M1674.9 1424.5L1639.9 1403.5L1639.9 1445.5Z"/><path d="M1701.8 1424.5L1666.8 1403.5L1666.8 1445.5Z"/><path d="M1728.8 1424.5L1693.8 1403.5L1693.8 1445.5Z"/><path d="M1755.7 1424.5L1720.7 1403.5L1720.7 1445.5Z"/><path d="M1782.7 1424.5L1747.7 1403.5L1747.7 1445.5Z"/><path d="M1809.6 1424.5L1774.6 1403.5L1774.6 1445.5Z"/><path d="M1836.6 1424.5L1801.6 1403.5L1801.6 1445.5Z"/><path d="M1863.5 1424.5L1828.5 1403.5L1828.5 1445.5Z"/><path d="M1890.5 1424.5L1855.5 1403.5L1855.5 1445.5Z"/><path d="M1917.5 1424.5L1882.5 1403.5L1882.5 1445.5Z"/><path d="M1944.4 1424.5L1909.4 1403.5L1909.4 1445.5Z"/><path d="M1971.4 1424.5L1936.4 1403.5L1936.4 1445.5Z"/><path d="M1998.3 1424.5L1963.3 1403.5L1963.3 1445.5Z"/><path d="M2025.3 1424.5L1990.3 1403.5L1990.3 1445.5Z"/><path d="M2052.2 1424.5L2017.2 1403.5L2017.2 1445.5Z"/><path d="M2079.2 1424.5L2044.2 1403.5L2044.2 1445.5Z"/></g>
</g>
<rect x="405" y="34.7" width="656" height="514.3" fill="#fff" stroke="#000" stroke-opacity="0.13" stroke-width="5"/>
<rect x="405" y="34.7" width="656" height="514.3" fill="none" stroke="#505050" stroke-width="2.2"/>
<path d="M474 105.5H623.5" stroke="#000" stroke-width="2.6" stroke-opacity="0.5"/>
<g fill="#000000"><rect x="532.8" y="90.3" width="30.3" height="30.3"/></g>
<text class="lg" x="639.2" y="127.2">Pre-emulsion</text>
<path d="M474 186H623.5" stroke="#d40000" stroke-width="2.6" stroke-opacity="0.5"/>
<g fill="#ff0000"><circle cx="547.9" cy="186" r="16.2"/></g>
<text class="lg" x="657.5" y="207.7">5,000 psi</text>
<path d="M474 267.2H623.5" stroke="#0000d4" stroke-width="2.6" stroke-opacity="0.5"/>
<g fill="#0000ff"><path d="M547.2 245.1L567.6 281L526.8 281Z"/></g>
<text class="lg" x="639.5" y="288.9">10,000 psi</text>
<path d="M474 348.3H623.5" stroke="#007070" stroke-width="2.6" stroke-opacity="0.5"/>
<g fill="#008080"><path d="M547.2 371.6L567.6 336.8L526.8 336.8Z"/></g>
<text class="lg" x="639.5" y="370">15,000 psi</text>
<path d="M474 429.6H623.5" stroke="#d400d4" stroke-width="2.6" stroke-opacity="0.5"/>
<g fill="#ff00ff"><path d="M525.3 429.6L561.3 408.5L561.3 450.7Z"/></g>
<text class="lg" x="639.5" y="451.3">20,000 psi</text>
<path d="M474 510.5H623.5" stroke="#e07000" stroke-width="2.6" stroke-opacity="0.5"/>
<g fill="#ff8000"><path d="M570.4 510.5L535.4 489.5L535.4 531.5Z"/></g>
<text class="lg" x="639.5" y="532.2">25,000 psi</text>
</svg></body></html>
